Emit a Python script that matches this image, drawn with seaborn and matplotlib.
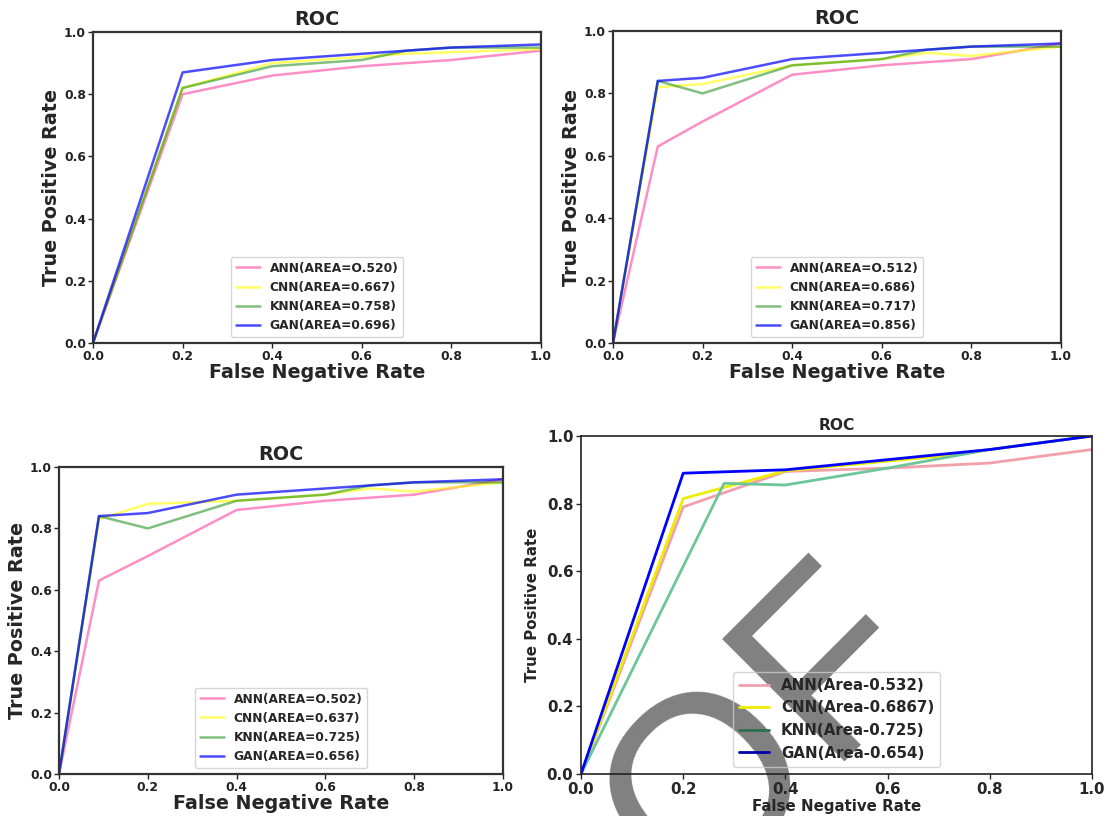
import matplotlib
matplotlib.use("Agg")
import matplotlib.pyplot as plt
import seaborn as sns

# panel 1 (top left)
p1_fnr = [0.0, 0.2, 0.4, 0.6, 0.7, 0.8, 1.0]
p1_ann = [0.0, 0.80, 0.86, 0.89, 0.90, 0.91, 0.94]
p1_cnn = [0.0, 0.82, 0.90, 0.92, 0.93, 0.935, 0.945]
p1_knn = [0.0, 0.82, 0.89, 0.91, 0.94, 0.95, 0.95]
p1_gan = [0.0, 0.87, 0.91, 0.93, 0.94, 0.95, 0.96]
p1_labels = ["ANN(AREA=O.520)", "CNN(AREA=0.667)", "KNN(AREA=0.758)", "GAN(AREA=0.696)"]

# panel 2 (top right)
p2_fnr = [0.0, 0.1, 0.2, 0.4, 0.6, 0.7, 0.8, 1.0]
p2_ann = [0.0, 0.63, 0.71, 0.86, 0.89, 0.90, 0.91, 0.96]
p2_cnn = [0.0, 0.82, 0.83, 0.89, 0.91, 0.93, 0.92, 0.95]
p2_knn = [0.0, 0.84, 0.80, 0.89, 0.91, 0.94, 0.95, 0.95]
p2_gan = [0.0, 0.84, 0.85, 0.91, 0.93, 0.94, 0.95, 0.96]
p2_labels = ["ANN(AREA=O.512)", "CNN(AREA=0.686)", "KNN(AREA=0.717)", "GAN(AREA=0.856)"]

# panel 3 (bottom left)
p3_fnr = [0.0, 0.09, 0.2, 0.4, 0.6, 0.7, 0.8, 1.0]
p3_ann = [0.0, 0.63, 0.71, 0.86, 0.89, 0.90, 0.91, 0.96]
p3_cnn = [0.0, 0.83, 0.88, 0.89, 0.91, 0.93, 0.92, 0.95]
p3_knn = [0.0, 0.84, 0.80, 0.89, 0.91, 0.94, 0.95, 0.95]
p3_gan = [0.0, 0.84, 0.85, 0.91, 0.93, 0.94, 0.95, 0.96]
p3_labels = ["ANN(AREA=O.502)", "CNN(AREA=0.637)", "KNN(AREA=0.725)", "GAN(AREA=0.656)"]

# panel 4 (bottom right), each curve has its own x points
p4_ann_x = [0.0, 0.2, 0.4, 0.6, 0.8, 1.0]
p4_ann_y = [0.0, 0.79, 0.895, 0.905, 0.92, 0.96]
p4_cnn_x = [0.0, 0.2, 0.4, 0.7, 1.0]
p4_cnn_y = [0.0, 0.815, 0.897, 0.94, 1.0]
p4_knn_x = [0.0, 0.28, 0.4, 0.6, 0.8, 1.0]
p4_knn_y = [0.0, 0.86, 0.855, 0.905, 0.96, 1.0]
p4_gan_x = [0.0, 0.2, 0.4, 0.8, 1.0]
p4_gan_y = [0.0, 0.89, 0.90, 0.96, 1.0]
p4_labels = ["ANN(Area-0.532)", "CNN(Area-0.6867)", "KNN(Area-0.725)", "GAN(Area-0.654)"]

ticks = [0.0, 0.2, 0.4, 0.6, 0.8, 1.0]

sns.set_style("ticks")
plt.rcParams['font.family'] = ['DejaVu Sans']

W, H = 1108, 816
fig = plt.figure(figsize=(W / 100, H / 100), dpi=100)


def make_ax(l, r, t, b):
    return fig.add_axes([l / W, 1 - b / H, (r - l) / W, (b - t) / H])


soft_colors = ["hotpink", "yellow", "green", "blue"]
soft_alpha = [0.75, 0.6, 0.5, 0.7]


def soft_panel(ax, x, curves, labels):
    for y, lab, c, a in zip(curves, labels, soft_colors, soft_alpha):
        sns.lineplot(x=x, y=y, color=c, alpha=a, linewidth=1.8, label=lab, ax=ax)
    ax.set_xlim(0, 1)
    ax.set_ylim(0, 1)
    ax.set_xticks(ticks)
    ax.set_yticks(ticks)
    ax.tick_params(labelsize=8.8, length=3.5, width=1, pad=1.5, colors="#222222")
    plt.setp(ax.get_xticklabels() + ax.get_yticklabels(), fontweight="bold")
    for s in ax.spines.values():
        s.set_visible(True)
        s.set_color("#333333")
        s.set_linewidth(1.6)
    ax.set_title("ROC", fontsize=13.8, fontweight="bold", pad=5)
    ax.set_xlabel("False Negative Rate", fontsize=13.8, fontweight="bold", labelpad=0)
    ax.set_ylabel("True Positive Rate", fontsize=13.8, fontweight="bold", labelpad=2)
    ax.legend(loc="lower center", prop={"weight": "bold", "size": 8.8})


ax1 = make_ax(93, 541, 32, 343)
soft_panel(ax1, p1_fnr, [p1_ann, p1_cnn, p1_knn, p1_gan], p1_labels)

ax2 = make_ax(613, 1061, 31, 343)
soft_panel(ax2, p2_fnr, [p2_ann, p2_cnn, p2_knn, p2_gan], p2_labels)

ax3 = make_ax(59, 503, 467, 774)
soft_panel(ax3, p3_fnr, [p3_ann, p3_cnn, p3_knn, p3_gan], p3_labels)

# last panel, different style
ax4 = make_ax(581, 1092, 436, 774)
sns.lineplot(x=p4_ann_x, y=p4_ann_y, color="#f2a0aa", linewidth=2, label=p4_labels[0], ax=ax4)
sns.lineplot(x=p4_cnn_x, y=p4_cnn_y, color="#eeee00", linewidth=2, label=p4_labels[1], ax=ax4)
sns.lineplot(x=p4_knn_x, y=p4_knn_y, color="#6cc69a", linewidth=2, label=p4_labels[2], ax=ax4)
sns.lineplot(x=p4_gan_x, y=p4_gan_y, color="blue", linewidth=2, label=p4_labels[3], ax=ax4)
ax4.set_xlim(0, 1)
ax4.set_ylim(0, 1)
ax4.set_xticks(ticks)
ax4.set_yticks(ticks)
ax4.tick_params(labelsize=10.8, length=3.5, width=1, pad=2)
plt.setp(ax4.get_xticklabels() + ax4.get_yticklabels(), fontweight="bold")
for s in ax4.spines.values():
    s.set_visible(True)
    s.set_color("#222222")
    s.set_linewidth(1.2)
ax4.set_title("ROC", fontsize=11.2, fontweight="bold", pad=4)
ax4.set_xlabel("False Negative Rate", fontsize=10.8, fontweight="bold", labelpad=2)
ax4.set_ylabel("True Positive Rate", fontsize=10.8, fontweight="bold", labelpad=5)
leg = ax4.legend(loc="lower center", prop={"weight": "bold", "size": 10.8})
leg.get_frame().set_facecolor("none")
leg_lines = leg.get_lines()
leg_lines[2].set_color("#2e6e4e")
leg_lines[3].set_color("#0000aa")

# grey watermark letters, sitting under the lines and texts of the last panel
ax4.text(767 / W, 1 - 736 / H, "OF", transform=fig.transFigure, fontsize=180,
         family="Liberation Sans", color="#808080", rotation=45, rotation_mode="anchor",
         ha="center", va="center", zorder=0.3, clip_on=False)

fig.savefig("out.png", dpi=100)
